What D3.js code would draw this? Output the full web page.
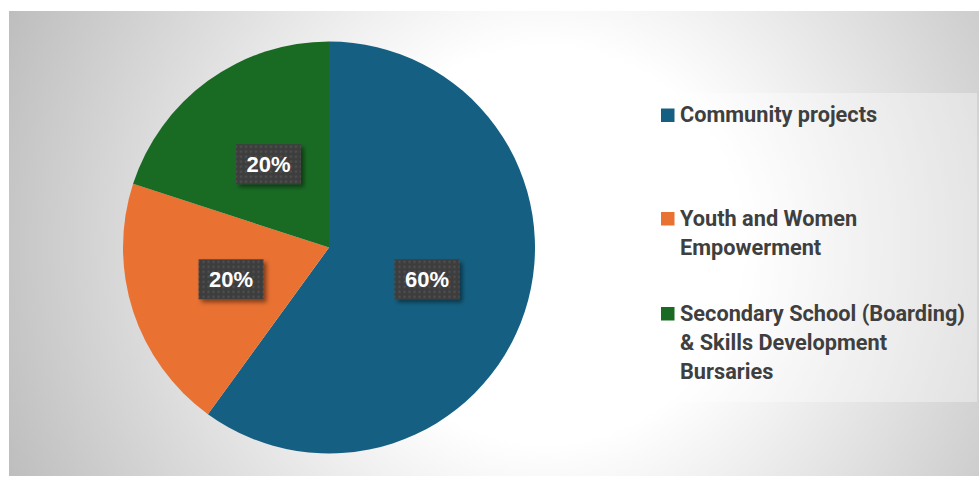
<!DOCTYPE html>
<html>
<head>
<meta charset="utf-8">
<script src="https://cdn.jsdelivr.net/npm/d3@7"></script>
<style>
  html, body { margin: 0; padding: 0; background: #ffffff; }
  svg { display: block; }
</style>
</head>
<body>
<svg id="chart" width="979" height="477"></svg>
<script>
// Share of funds by programme area
const categories = [
  "Community projects",
  "Youth and Women Empowerment",
  "Secondary School (Boarding) & Skills Development Bursaries"
];
const values = [60, 20, 20];
const legendLines = [
  ["Community projects"],
  ["Youth and Women", "Empowerment"],
  ["Secondary School (Boarding)", "& Skills Development", "Bursaries"]
];
const colors = ["#156082", "#E97132", "#196B24"];

const svg = d3.select("#chart");
const defs = svg.append("defs");

// Chart-area background: soft radial fade from white to grey
const bg = defs.append("radialGradient")
  .attr("id", "bgGrad")
  .attr("gradientUnits", "userSpaceOnUse")
  .attr("cx", 545).attr("cy", 245).attr("r", 600);
bg.append("stop").attr("offset", 0).attr("stop-color", "#ffffff");
bg.append("stop").attr("offset", 0.33).attr("stop-color", "#ffffff");
bg.append("stop").attr("offset", 1).attr("stop-color", "#bbbbbb");

// Dotted dark fill for the data-label boxes
const pat = defs.append("pattern")
  .attr("id", "dots")
  .attr("patternUnits", "userSpaceOnUse")
  .attr("width", 5).attr("height", 5);
pat.append("rect").attr("width", 5).attr("height", 5).attr("fill", "#3d3d3d");
pat.append("rect").attr("x", 1.5).attr("y", 1.5).attr("width", 2).attr("height", 2).attr("fill", "#545454");

const shadow = defs.append("filter")
  .attr("id", "labelShadow")
  .attr("x", "-30%").attr("y", "-30%").attr("width", "160%").attr("height", "160%");
shadow.append("feDropShadow")
  .attr("dx", 3).attr("dy", 3).attr("stdDeviation", 2)
  .attr("flood-color", "#000").attr("flood-opacity", 0.45);

svg.append("rect")
  .attr("x", 9).attr("y", 11)
  .attr("width", 970).attr("height", 465)
  .attr("fill", "url(#bgGrad)");

// Pie
const cx = 329, cy = 247.5, radius = 206;
const pie = d3.pie().sort(null).value(d => d);
const arcs = pie(values);
const arc = d3.arc().innerRadius(0).outerRadius(radius);

const g = svg.append("g").attr("transform", `translate(${cx},${cy})`);
g.selectAll("path.slice")
  .data(arcs)
  .join("path")
  .attr("class", "slice")
  .attr("d", arc)
  .attr("fill", (d, i) => colors[i]);

// Data labels
const boxW = 65, boxH = 40;
const labels = g.selectAll("g.lbl")
  .data(arcs)
  .join("g")
  .attr("class", "lbl")
  .attr("transform", d => {
    const [x, y] = arc.centroid(d);
    return `translate(${x},${y})`;
  });
labels.append("rect")
  .attr("x", -boxW / 2).attr("y", -boxH / 2)
  .attr("width", boxW).attr("height", boxH)
  .attr("fill", "url(#dots)")
  .attr("filter", "url(#labelShadow)");
labels.append("text")
  .attr("text-anchor", "middle")
  .attr("dy", "0.36em")
  .attr("font-family", "'Liberation Sans', Arial, sans-serif")
  .attr("font-weight", "bold")
  .attr("font-size", 22)
  .attr("fill", "#ffffff")
  .text(d => d.data + "%");

// Legend
svg.append("rect")
  .attr("x", 648).attr("y", 93)
  .attr("width", 329).attr("height", 309)
  .attr("fill", "#ffffff").attr("fill-opacity", 0.35);

const entryBaselines = [122, 225.5, 320.5];
const lineStep = 29;
const textX = 680;
const widestLine = 285; // width of the longest legend line
const leg = svg.append("g");
const entries = leg.selectAll("g.entry")
  .data(categories)
  .join("g")
  .attr("class", "entry");
entries.append("rect")
  .attr("x", 661)
  .attr("y", (d, i) => entryBaselines[i] - 13.5)
  .attr("width", 13.5).attr("height", 13.5)
  .attr("fill", (d, i) => colors[i]);
const legendTexts = [];
entries.each(function (d, i) {
  const t = d3.select(this).append("text")
    .attr("font-family", "Roboto, 'Open Sans', sans-serif")
    .attr("font-weight", "bold")
    .attr("font-size", 20)
    .attr("fill", "#3f3f3f");
  legendLines[i].forEach((line, j) => {
    t.append("tspan")
      .attr("x", textX)
      .attr("y", entryBaselines[i] + j * lineStep)
      .text(line);
  });
  legendTexts.push(t);
});
// Size the legend font so the longest line spans the legend's text column
let maxW = 0;
svg.selectAll("g.entry tspan").each(function () {
  maxW = Math.max(maxW, this.getComputedTextLength());
});
if (maxW > 0) {
  const fs = 20 * widestLine / maxW;
  legendTexts.forEach(t => t.attr("font-size", fs));
}
</script>
</body>
</html>
